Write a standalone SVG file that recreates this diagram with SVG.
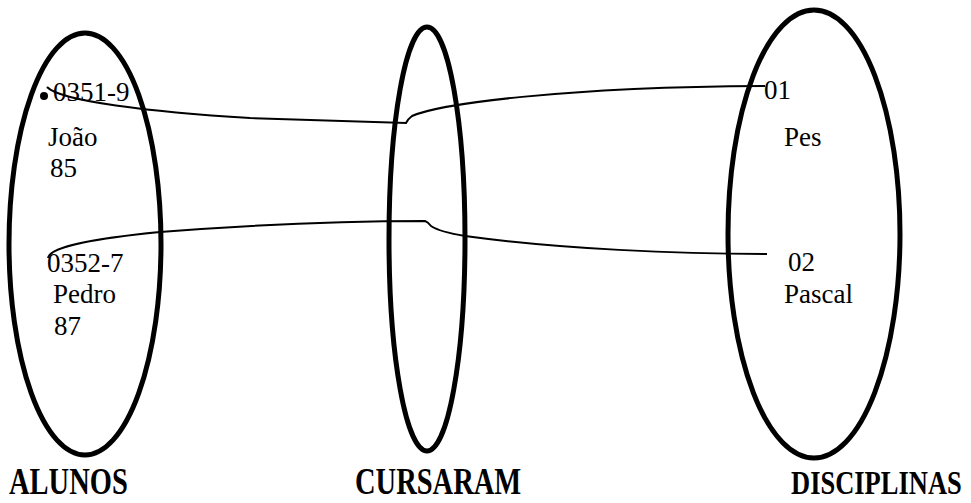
<svg xmlns="http://www.w3.org/2000/svg" width="971" height="503" viewBox="0 0 971 503">
<style>
.set{fill:none;stroke:#000;stroke-width:5}
.conn{fill:none;stroke:#000;stroke-width:2}
.t{font-family:"Liberation Serif","Times New Roman",serif;font-size:27px;fill:#000}
.lbl{font-family:"Liberation Serif","Times New Roman",serif;font-weight:bold;fill:#000}
</style>
<rect width="971" height="503" fill="#fff"/>
<g id="alunos">
<ellipse class="set" cx="85" cy="244" rx="76" ry="211"/>
<text class="t" x="53" y="101">0351-9</text>
<text class="t" x="48" y="146">João</text>
<text class="t" x="50" y="177">85</text>
<text class="t" x="47" y="272">0352-7</text>
<text class="t" x="53" y="303">Pedro</text>
<text class="t" x="54" y="335">87</text>
<text class="lbl" font-size="28.5" transform="translate(9,494) scale(1,1.3)">ALUNOS</text>
</g>
<g id="cursaram">
<ellipse class="set" cx="427" cy="239" rx="38" ry="212"/>
<text class="lbl" font-size="28.5" transform="translate(355,494) scale(1,1.3)">CURSARAM</text>
</g>
<g id="disciplinas">
<ellipse class="set" cx="814" cy="234" rx="86" ry="224"/>
<text class="t" x="764" y="99">01</text>
<text class="t" x="784" y="146">Pes</text>
<text class="t" x="788" y="271">02</text>
<text class="t" x="784" y="303">Pascal</text>
<text class="lbl" font-size="26.5" transform="translate(791,494) scale(1,1.3)">DISCIPLINAS</text>
</g>
<g id="connectors">
<circle cx="44" cy="96" r="4" fill="#000"/>
<path class="conn" d="M47,87 C60,101 150,112 250,118 L406,123 Q408,119 412,116 C440,104 560,87 765,86"/>
<path class="conn" d="M48,258 C50,247 90,239 160,232 C250,225 330,221 425,221 Q428,222 431,226 Q440,232 465,236 C560,249 680,254 767,254"/>
</g>
</svg>
